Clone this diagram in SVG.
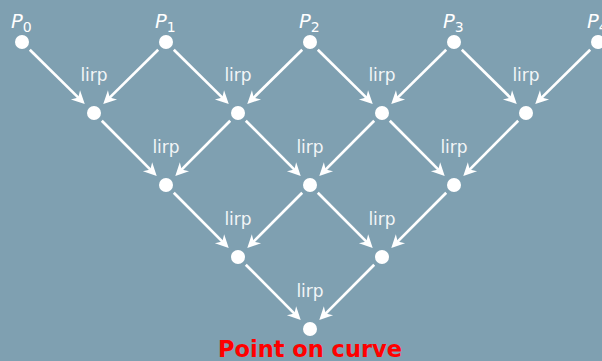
<svg xmlns="http://www.w3.org/2000/svg" width="602" height="361" viewBox="0 0 602 361">
<style>
.dot{fill:#ffffff}
.edge{stroke:#ffffff;stroke-width:2.7;fill:none;marker-end:url(#ah)}
.lbl{font-family:"DejaVu Sans",Verdana,sans-serif;font-size:17px;fill:#f2f5f7;text-anchor:middle}
.pl{font-family:"DejaVu Sans",Verdana,sans-serif;font-size:19.5px;fill:#ffffff;font-style:italic}
.sub{font-size:14px;font-style:normal}
.title{font-family:"DejaVu Sans",Verdana,sans-serif;font-size:22.5px;font-weight:bold;fill:#ff0000;text-anchor:middle}
</style>
<defs>
<marker id="ah" markerUnits="userSpaceOnUse" viewBox="-15 -8 16 16" markerWidth="16" markerHeight="16" refX="-4" refY="0" orient="auto">
<path d="M0,0 L-13,-6.5 L-9,0 L-13,6.5 Z" fill="#ffffff"/>
</marker>
</defs>
<rect width="602" height="361" fill="#7fa0b1"/>
<g id="connectors">
<line class="edge" x1="29.8" y1="49.7" x2="81.9" y2="101.1"/>
<line class="edge" x1="158.2" y1="49.7" x2="106.1" y2="101.1"/>
<line class="edge" x1="173.8" y1="49.7" x2="225.9" y2="101.1"/>
<line class="edge" x1="302.2" y1="49.7" x2="250.1" y2="101.1"/>
<line class="edge" x1="317.8" y1="49.7" x2="369.9" y2="101.1"/>
<line class="edge" x1="446.2" y1="49.7" x2="394.1" y2="101.1"/>
<line class="edge" x1="461.8" y1="49.7" x2="513.9" y2="101.1"/>
<line class="edge" x1="590.2" y1="49.7" x2="538.1" y2="101.1"/>
<line class="edge" x1="101.8" y1="120.7" x2="153.9" y2="173.1"/>
<line class="edge" x1="230.2" y1="120.7" x2="178.1" y2="173.1"/>
<line class="edge" x1="245.8" y1="120.7" x2="297.9" y2="173.1"/>
<line class="edge" x1="374.2" y1="120.7" x2="322.1" y2="173.1"/>
<line class="edge" x1="389.8" y1="120.7" x2="441.9" y2="173.1"/>
<line class="edge" x1="518.2" y1="120.7" x2="466.1" y2="173.1"/>
<line class="edge" x1="173.8" y1="192.7" x2="225.9" y2="245.1"/>
<line class="edge" x1="302.2" y1="192.7" x2="250.1" y2="245.1"/>
<line class="edge" x1="317.8" y1="192.7" x2="369.9" y2="245.1"/>
<line class="edge" x1="446.2" y1="192.7" x2="394.1" y2="245.1"/>
<line class="edge" x1="245.8" y1="264.7" x2="297.9" y2="317.1"/>
<line class="edge" x1="374.2" y1="264.7" x2="322.1" y2="317.1"/>
</g>
<g id="P0"><circle class="dot" cx="22" cy="42" r="7"/><text class="pl" x="11" y="28">P<tspan class="sub" dy="4">0</tspan></text></g>
<g id="P1"><circle class="dot" cx="166" cy="42" r="7"/><text class="pl" x="155" y="28">P<tspan class="sub" dy="4">1</tspan></text></g>
<g id="P2"><circle class="dot" cx="310" cy="42" r="7"/><text class="pl" x="299" y="28">P<tspan class="sub" dy="4">2</tspan></text></g>
<g id="P3"><circle class="dot" cx="454" cy="42" r="7"/><text class="pl" x="443" y="28">P<tspan class="sub" dy="4">3</tspan></text></g>
<g id="P4"><circle class="dot" cx="598" cy="42" r="7"/><text class="pl" x="587" y="28">P<tspan class="sub" dy="4">4</tspan></text></g>
<g id="n10"><circle class="dot" cx="94" cy="113" r="7"/><text class="lbl" x="94" y="81">lirp</text></g>
<g id="n11"><circle class="dot" cx="238" cy="113" r="7"/><text class="lbl" x="238" y="81">lirp</text></g>
<g id="n12"><circle class="dot" cx="382" cy="113" r="7"/><text class="lbl" x="382" y="81">lirp</text></g>
<g id="n13"><circle class="dot" cx="526" cy="113" r="7"/><text class="lbl" x="526" y="81">lirp</text></g>
<g id="n20"><circle class="dot" cx="166" cy="185" r="7"/><text class="lbl" x="166" y="153">lirp</text></g>
<g id="n21"><circle class="dot" cx="310" cy="185" r="7"/><text class="lbl" x="310" y="153">lirp</text></g>
<g id="n22"><circle class="dot" cx="454" cy="185" r="7"/><text class="lbl" x="454" y="153">lirp</text></g>
<g id="n30"><circle class="dot" cx="238" cy="257" r="7"/><text class="lbl" x="238" y="225">lirp</text></g>
<g id="n31"><circle class="dot" cx="382" cy="257" r="7"/><text class="lbl" x="382" y="225">lirp</text></g>
<g id="n40"><circle class="dot" cx="310" cy="329" r="7"/><text class="lbl" x="310" y="297">lirp</text><text class="title" x="310" y="357">Point on curve</text></g>
</svg>
